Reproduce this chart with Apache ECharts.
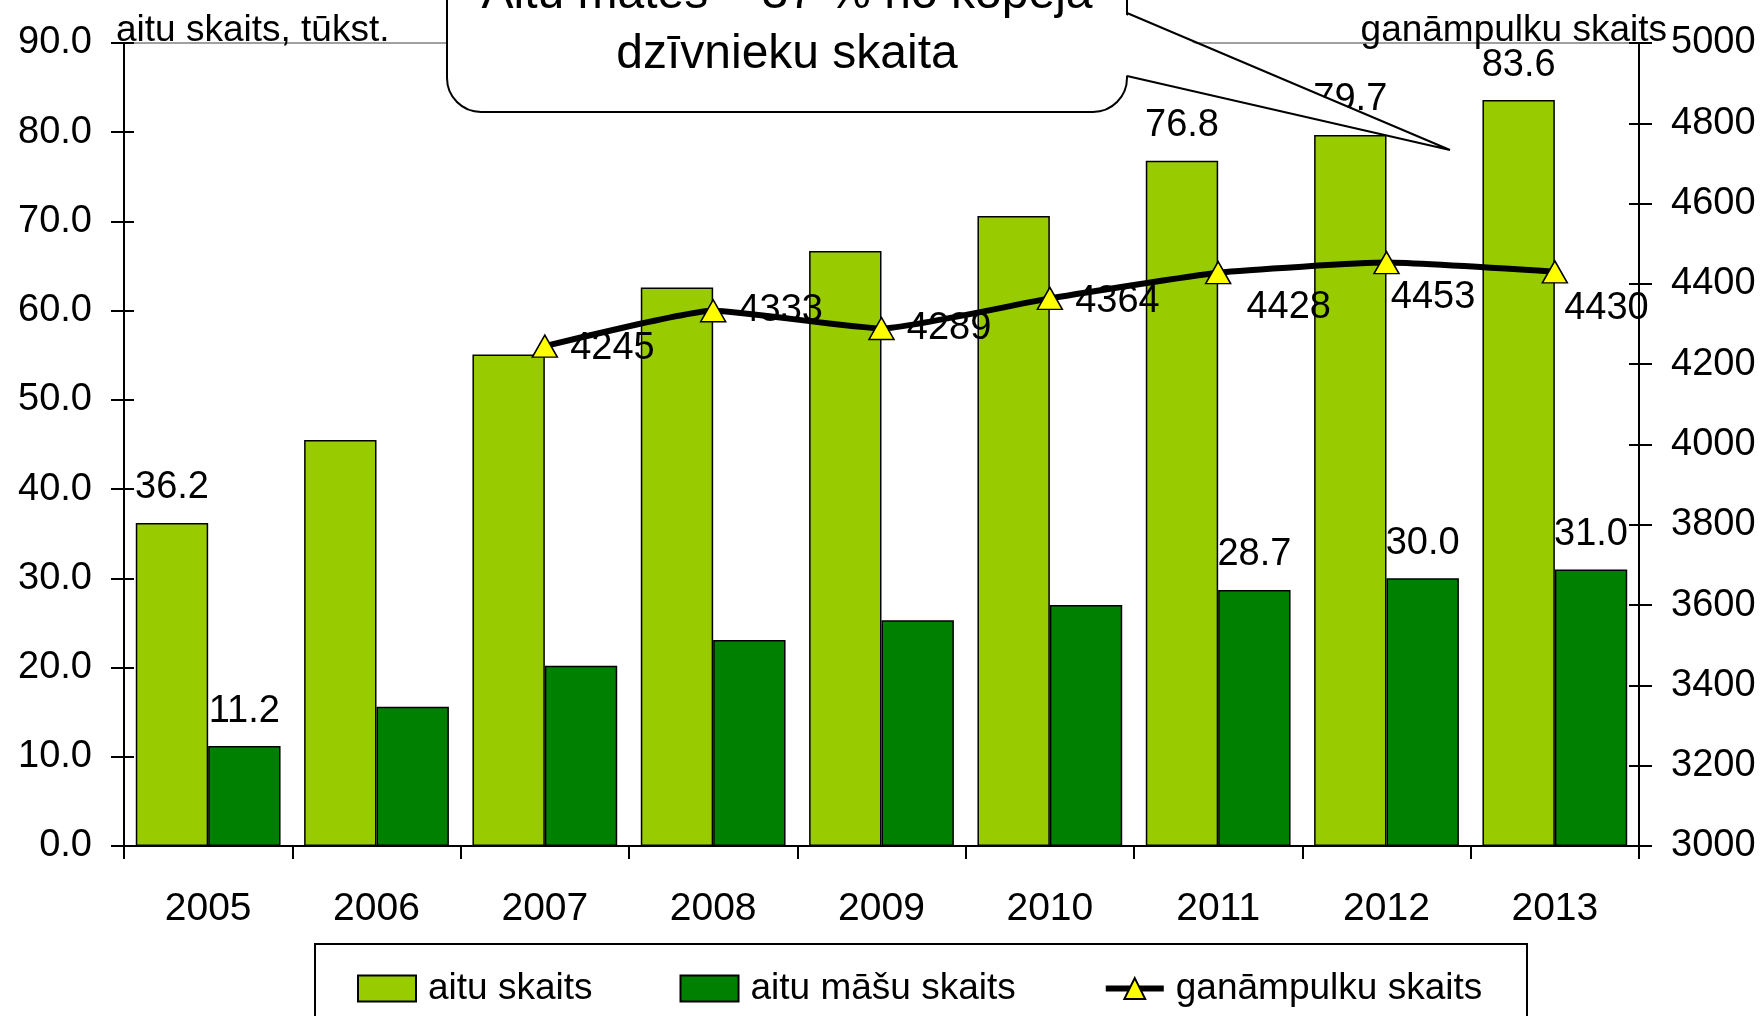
<!DOCTYPE html>
<html>
<head>
<meta charset="utf-8">
<script src="https://cdn.jsdelivr.net/npm/echarts@6/dist/echarts.min.js"></script>
<style>
html, body { margin: 0; padding: 0; background: #fff; }
#container { width: 1763px; height: 1016px; }
</style>
</head>
<body>
<div id="container"></div>
<script>
var FONT = "'Liberation Sans', Arial, sans-serif";

var YEARS = ['2005', '2006', '2007', '2008', '2009', '2010', '2011', '2012', '2013'];
var SHEEP = [36.2, 45.5, 55.1, 62.6, 66.7, 70.6, 76.8, 79.7, 83.6];      // aitu skaits, tūkst.
var EWES = [11.2, 15.6, 20.2, 23.1, 25.3, 27.0, 28.7, 30.0, 31.0];       // aitu māšu skaits
var FLOCKS = [null, null, 4245, 4333, 4289, 4364, 4428, 4453, 4430];     // ganāmpulku skaits
var LABELED_YEARS = ['2005', '2011', '2012', '2013'];                     // bars with a value label

// label nudges for the line (Excel placed some of them by hand)
var FLOCK_LABEL_NUDGE = [null, null, [6, 2], [6, 0], [6, 0], [6, 3], [9, 35], [-15, 35], [-10, 37]];

var SERIES_NAMES = ['aitu skaits', 'aitu māšu skaits', 'ganāmpulku skaits'];

function barData(values) {
    return values.map(function (v, i) {
        return {
            value: v,
            label: { show: LABELED_YEARS.indexOf(YEARS[i]) >= 0 }
        };
    });
}

function lineData() {
    return FLOCKS.map(function (v, i) {
        if (v === null) return '-';
        return {
            value: v,
            label: { offset: FLOCK_LABEL_NUDGE[i] }
        };
    });
}

var dom = document.getElementById('container');
var myChart = echarts.init(dom);

var labelStyle = { color: '#000', fontFamily: FONT, fontSize: 38 };
var black = { color: '#000', width: 2 };

// the inner half of the crossing ticks, drawn by bare copies of the y axes
function innerTicks(base) {
    return Object.assign({}, base, {
        axisLine: { show: false },
        axisTick: { show: true, inside: true, length: 10, lineStyle: black },
        axisLabel: { show: false },
        splitLine: { show: false }
    });
}

var leftAxis = {
    type: 'value', min: 0, max: 90, interval: 10, position: 'left',
    axisLine: { show: true, lineStyle: black },
    axisTick: { show: true, length: 13, lineStyle: black },
    axisLabel: {
        color: '#000', fontFamily: FONT, fontSize: 38, margin: 32,
        formatter: function (v) { return v.toFixed(1); }
    },
    splitLine: { show: false }
};
var rightAxis = {
    type: 'value', min: 3000, max: 5000, interval: 200, position: 'right',
    axisLine: { show: true, lineStyle: black },
    axisTick: { show: true, length: 13, lineStyle: black },
    axisLabel: {
        color: '#000', fontFamily: FONT, fontSize: 38, margin: 32,
        formatter: function (v) { return String(v); }
    },
    splitLine: { show: false }
};

var option = {
    animation: false,
    backgroundColor: '#fff',
    textStyle: { fontFamily: FONT },
    grid: {
        left: 124, right: 124, top: 43, bottom: 170,
        outerBoundsMode: 'none',
        show: true, borderColor: '#a0a0a0', borderWidth: 2
    },
    legend: {
        data: [
            { name: SERIES_NAMES[0], icon: 'rect' },
            { name: SERIES_NAMES[1], icon: 'rect' },
            { name: SERIES_NAMES[2], lineStyle: { width: 6 } }
        ],
        left: 352, top: 965,
        itemWidth: 58, itemHeight: 26, itemGap: 87,
        textStyle: { color: '#000', fontFamily: FONT, fontSize: 37, padding: [0, 0, 0, 7] }
    },
    xAxis: {
        type: 'category', data: YEARS,
        axisLine: { lineStyle: black },
        axisTick: { show: true, length: 13, lineStyle: black },
        axisLabel: { color: '#000', fontFamily: FONT, fontSize: 39, margin: 44 },
        splitLine: { show: false }
    },
    yAxis: [leftAxis, rightAxis, innerTicks(leftAxis), innerTicks(rightAxis)],
    series: [{
        name: SERIES_NAMES[0],
        type: 'bar',
        data: barData(SHEEP),
        barGap: '0%',
        barCategoryGap: '14%',
        itemStyle: { color: '#99cc00', borderColor: '#000', borderWidth: 1.5 },
        label: Object.assign({ position: 'top', distance: 16,
            formatter: function (p) { return p.value.toFixed(1); } }, labelStyle),
        z: 2
    }, {
        name: SERIES_NAMES[1],
        type: 'bar',
        data: barData(EWES),
        itemStyle: { color: '#008000', borderColor: '#000', borderWidth: 1.5 },
        label: Object.assign({ position: 'top', distance: 16,
            formatter: function (p) { return p.value.toFixed(1); } }, labelStyle),
        z: 2
    }, {
        name: SERIES_NAMES[2],
        type: 'line',
        yAxisIndex: 1,
        data: lineData(),
        smooth: 0.15,
        symbol: 'triangle',
        symbolSize: [25, 22],
        lineStyle: { color: '#000', width: 6 },
        itemStyle: { color: '#ffff00', borderColor: '#000', borderWidth: 1.5 },
        label: Object.assign({ show: true, position: 'right', distance: 6 }, labelStyle),
        z: 5
    }],
    graphic: [
        {
            type: 'text', left: 116, top: 12, z: 10,
            style: { text: 'aitu skaits, tūkst.', font: '37px ' + FONT, fill: '#000' }
        },
        {
            type: 'text', right: 96, top: 12, z: 10,
            style: { text: 'ganāmpulku skaits', font: '37px ' + FONT, fill: '#000' }
        },
        {
            // callout bubble
            type: 'rect', z: 20,
            shape: { x: 447, y: -100, width: 680, height: 212, r: 34 },
            style: { fill: '#fff', stroke: '#000', lineWidth: 2 }
        },
        {
            // white wedge hides the bubble border under the pointer
            type: 'polygon', z: 21,
            shape: { points: [[1124, 14], [1450, 150], [1124, 75]] },
            style: { fill: '#fff', stroke: null }
        },
        {
            type: 'polyline', z: 22,
            shape: { points: [[1127, 13], [1450, 150], [1127, 76]] },
            style: { fill: null, stroke: '#000', lineWidth: 2 }
        },
        {
            type: 'text', x: 787, y: -5, z: 23,
            style: { text: 'Aitu mātes – 37 % no kopējā', font: '48px ' + FONT, fill: '#000',
                textAlign: 'center', textVerticalAlign: 'middle' }
        },
        {
            type: 'text', x: 787, y: 55, z: 23,
            style: { text: 'dzīvnieku skaita', font: '48px ' + FONT, fill: '#000',
                textAlign: 'center', textVerticalAlign: 'middle' }
        },
        {
            // legend frame, runs off the bottom edge
            type: 'rect', z: 0,
            shape: { x: 315, y: 944, width: 1212, height: 120 },
            style: { fill: 'none', stroke: '#000', lineWidth: 2 }
        }
    ]
};

myChart.setOption(option, true);
</script>
</body>
</html>
